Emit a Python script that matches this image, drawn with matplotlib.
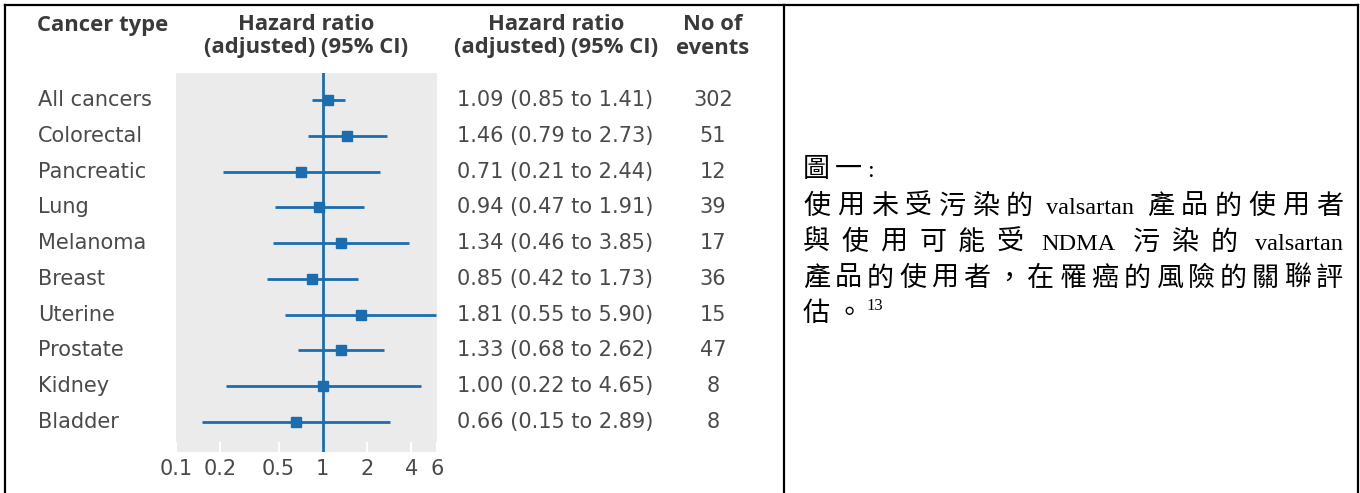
import numpy as np
import matplotlib.pyplot as plt
from matplotlib import transforms
from matplotlib.lines import Line2D
from matplotlib.ticker import NullLocator

plt.rcParams['font.family'] = ['DejaVu Sans']

# Forest plot data
cancer_types = ['All cancers', 'Colorectal', 'Pancreatic', 'Lung', 'Melanoma',
                'Breast', 'Uterine', 'Prostate', 'Kidney', 'Bladder']
hazard_ratio = [1.09, 1.46, 0.71, 0.94, 1.34, 0.85, 1.81, 1.33, 1.00, 0.66]
ci_low = [0.85, 0.79, 0.21, 0.47, 0.46, 0.42, 0.55, 0.68, 0.22, 0.15]
ci_high = [1.41, 2.73, 2.44, 1.91, 3.85, 1.73, 5.90, 2.62, 4.65, 2.89]
n_events = [302, 51, 12, 39, 17, 36, 15, 47, 8, 8]
x_ticks = [0.1, 0.2, 0.5, 1, 2, 4, 6]
x_tick_labels = ['0.1', '0.2', '0.5', '1', '2', '4', '6']

# Caption in the right cell
caption_lines = [
    '圖一:',
    '使用未受污染的 valsartan 產品的使用者',
    '與使用可能受 NDMA 污染的 valsartan',
    '產品的使用者，在罹癌的風險的關聯評',
    '估。',
]
caption_justify = [False, True, True, True, False]
footnote_ref = '13'

BLUE = '#1c6cb0'
TXT = '#4a4a4a'
HEAD = '#3a3a3a'
GREY_BG = '#ebebeb'

W, H = 1360, 493
fig = plt.figure(figsize=(W / 100, H / 100), dpi=100)


def fx(px):
    return px / W


def fy(py):
    return 1 - py / H


# plot area
ax = fig.add_axes([fx(176), fy(452), (437 - 176) / W, (452 - 73) / H])
ax.set_facecolor(GREY_BG)
ax.set_xscale('log')
ax.set_xlim(0.1, 6)
rows = np.arange(len(cancer_types))
ax.set_ylim(9.84, -0.755)

ax.axvline(1, color=BLUE, lw=2)
ax.hlines(rows, ci_low, ci_high, color=BLUE, lw=2)
ax.plot(hazard_ratio, rows, 's', color=BLUE, ms=7)

for s in ax.spines.values():
    s.set_visible(False)
ax.set_yticks([])
ax.set_xticks(x_ticks)
ax.set_xticklabels(x_tick_labels)
ax.xaxis.set_minor_locator(NullLocator())
ax.tick_params(axis='x', direction='in', length=7, width=1.5, color='white',
               pad=5, labelsize=15, labelcolor=TXT)

# table columns
row_tr = transforms.blended_transform_factory(fig.transFigure, ax.transData)
for i, name in enumerate(cancer_types):
    fig.text(fx(38), i, name, transform=row_tr, ha='left', va='center',
             fontsize=15, color=TXT)
    fig.text(fx(457), i, f'{hazard_ratio[i]:.2f} ({ci_low[i]:.2f} to {ci_high[i]:.2f})',
             transform=row_tr, ha='left', va='center', fontsize=15, color=TXT)
    fig.text(fx(713), i, str(n_events[i]), transform=row_tr, ha='center',
             va='center', fontsize=15, color=TXT)

# headers
hd = dict(fontsize=15.8, fontweight='bold', color=HEAD, va='center',
          family=['Open Sans', 'DejaVu Sans'])
fig.text(fx(37), fy(25), 'Cancer type', ha='left', **hd)
fig.text(fx(306), fy(25), 'Hazard ratio', ha='center', **hd)
fig.text(fx(306), fy(48), '(adjusted) (95% CI)', ha='center', **hd)
fig.text(fx(556), fy(25), 'Hazard ratio', ha='center', **hd)
fig.text(fx(556), fy(48), '(adjusted) (95% CI)', ha='center', **hd)
fig.text(fx(713), fy(25), 'No of', ha='center', **hd)
fig.text(fx(713), fy(48), 'events', ha='center', **hd)

# table borders
bk = dict(color='black', lw=1.6, solid_capstyle='projecting')
fig.add_artist(Line2D([fx(5), fx(1358)], [fy(5), fy(5)], **bk))
for xb in (5, 784, 1358):
    fig.add_artist(Line2D([fx(xb), fx(xb)], [fy(5), fy(H + 5)], **bk))

# caption: CJK characters one by one, Latin words whole, justified lines
CJK_FONT = ['Noto Sans CJK TC', 'DejaVu Sans']
LAT_FONT = ['Liberation Serif', 'DejaVu Serif']
CJK_SIZE = 19.5
LAT_SIZE = 17.5
SPACE_PX = 6
LEFT, RIGHT = 803, 1343
baselines = [177, 214, 250, 286, 321]


def tokenize(s):
    toks = []
    word, word_space, space = '', False, False
    for ch in s:
        if ch == ' ':
            if word:
                toks.append((word, word_space))
                word = ''
            space = True
            continue
        if ch.isascii():
            if not word:
                word_space, space = space, False
            word += ch
        else:
            if word:
                toks.append((word, word_space))
                word = ''
            toks.append((ch, space))
            space = False
    if word:
        toks.append((word, word_space))
    return toks


renderer = fig.canvas.get_renderer()
placed = []
for line, base in zip(caption_lines, baselines):
    items = []
    for tok, sp in tokenize(line):
        latin = tok.isascii()
        t = fig.text(0, fy(base), tok, family=LAT_FONT if latin else CJK_FONT,
                     fontsize=LAT_SIZE if latin else CJK_SIZE,
                     color='black', ha='left', va='baseline')
        items.append((t, t.get_window_extent(renderer).width, sp))
    placed.append(items)

extras = []
for items, just in zip(placed, caption_justify):
    if just:
        used = sum(w for _, w, _ in items) + sum(SPACE_PX for _, _, sp in items[1:] if sp)
        extras.append((RIGHT - LEFT - used) / (len(items) - 1))
    else:
        extras.append(None)
default_extra = extras[3]

for items, extra in zip(placed, extras):
    if extra is None:
        extra = default_extra
    x = LEFT
    for k, (t, w, sp) in enumerate(items):
        if k > 0:
            x += extra + (SPACE_PX if sp else 0)
        t.set_x(fx(x))
        x += w
    end_x = x

fig.text(fx(end_x + 4), fy(baselines[-1] - 11), footnote_ref, family=LAT_FONT,
         fontsize=12, color='black', ha='left', va='baseline')

fig.savefig('out.png', dpi=100, facecolor='white')
